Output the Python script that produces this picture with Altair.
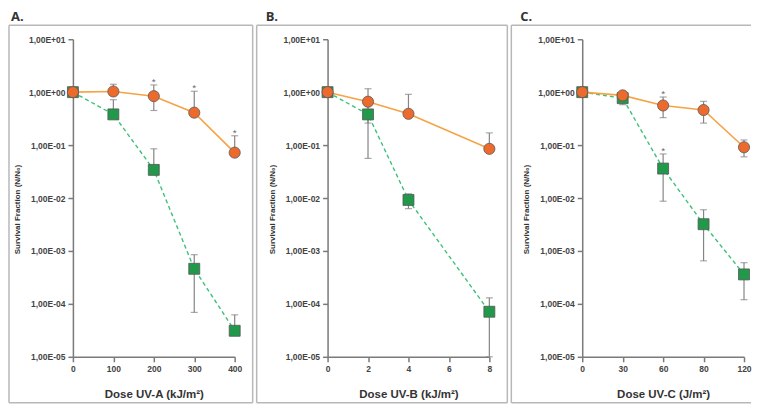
import altair as alt
import pandas as pd

# ---------------- data ----------------
# Panel A: UV-A (kJ/m2)
a_dose = [0, 100, 200, 300, 400]
a_orange = [1.0, 1.03, 0.84, 0.41, 0.072]
a_orange_hi = [None, 1.41, 1.37, 1.04, 0.15]
a_orange_lo = [None, None, 0.45, None, None]
a_orange_sig = [False, False, True, True, True]
a_green = [1.0, 0.38, 0.034, 4.6e-4, 3.1e-5]
a_green_hi = [None, 0.72, 0.085, 8.5e-4, 6.2e-5]
a_green_lo = [None, None, None, 6.9e-5, None]
a_green_sig = [False, False, False, False, False]

# Panel B: UV-B (kJ/m2)
b_dose = [0, 2, 4, 8]
b_orange = [1.0, 0.66, 0.39, 0.085]
b_orange_hi = [None, 1.16, 0.91, 0.17]
b_orange_lo = [None, 0.26, None, None]
b_orange_sig = [False, False, False, False]
b_green = [1.0, 0.38, 0.0092, 7.1e-5]
b_green_hi = [None, None, 0.012, 1.3e-4]
b_green_lo = [None, 0.056, 0.0063, 1.0e-5]
b_green_sig = [False, False, False, False]

# Panel C: UV-C (J/m2), doses drawn at evenly spaced positions
c_labels = ["0", "30", "60", "80", "120"]
c_pos = [0, 1, 2, 3, 4]
c_orange = [1.0, 0.87, 0.56, 0.46, 0.091]
c_orange_hi = [None, 1.03, 0.81, 0.67, 0.125]
c_orange_lo = [None, None, 0.33, 0.26, 0.06]
c_orange_sig = [False, False, True, False, False]
c_green = [1.0, 0.77, 0.036, 0.0032, 3.6e-4]
c_green_hi = [None, None, 0.068, 0.006, 6.0e-4]
c_green_lo = [None, 0.58, 0.0087, 6.5e-4, 1.2e-4]
c_green_sig = [False, False, True, False, False]

y_ticks = [10, 1, 0.1, 0.01, 0.001, 0.0001, 0.00001]

# ---------------- styling ----------------
ORANGE_FILL = "#EC6A2C"
ORANGE_LINE = "#F5A345"
GREEN_FILL = "#21994A"
GREEN_LINE = "#3EC07A"
ERR = "#858585"
BOX = "#b8b8b8"
W, H = 162, 318


def panel_df(pos, o, ohi, olo, osig, g, ghi, glo, gsig):
    rows = []
    for series, vals, hi, lo, sig in (("green", g, ghi, glo, gsig),
                                      ("orange", o, ohi, olo, osig)):
        for p, v, h, l, s in zip(pos, vals, hi, lo, sig):
            rows.append(dict(pos=p, value=v, hi=h, lo=l, sig=s, series=series))
    return pd.DataFrame(rows)


one = pd.DataFrame({"k": [0]})

y_label_expr = ("'1,00E' + (datum.value >= 1 ? '+' : '-') + "
                "format(abs(round(log(datum.value) / LN10)), '02d')")


def make_panel(df, letter, xtitle, xdomain, xvalues, label_expr,
               box_left, box_right, right_side):
    axis_kw = dict(values=xvalues, title=xtitle, labelFlush=False,
                   labelOverlap=False)
    if label_expr:
        axis_kw["labelExpr"] = label_expr
    xs = alt.Scale(domain=xdomain, nice=False, zero=False)
    x = alt.X("pos:Q", scale=xs, axis=alt.Axis(**axis_kw))
    ys = alt.Scale(type="log", domain=[1e-5, 10], nice=False)
    yaxis = alt.Axis(values=y_ticks, labelExpr=y_label_expr,
                     title="Survival Fraction (N/N₀)", labelOverlap=False,
                     titleY=H / 2 + 11)
    y = alt.Y("value:Q", scale=ys, axis=yaxis)
    yhi = alt.Y("hi:Q", scale=ys, axis=yaxis)
    ylo = alt.Y("lo:Q", scale=ys, axis=yaxis)

    base = alt.Chart(df)
    hi_df = base.transform_filter("isValid(datum.hi)")
    lo_df = base.transform_filter("isValid(datum.lo)")

    err_hi = hi_df.mark_rule(color=ERR, strokeWidth=1.2).encode(
        x=x, y=y, y2="hi:Q")
    err_lo = lo_df.mark_rule(color=ERR, strokeWidth=1.2).encode(
        x=x, y=y, y2="lo:Q")
    cap_hi = hi_df.mark_tick(orient="horizontal", size=7, thickness=1.2,
                             color=ERR).encode(x=x, y=yhi)
    cap_lo = lo_df.mark_tick(orient="horizontal", size=7, thickness=1.2,
                             color=ERR).encode(x=x, y=ylo)

    line_g = base.transform_filter("datum.series == 'green'").mark_line(
        color=GREEN_LINE, strokeWidth=1.4, strokeDash=[4, 3]).encode(x=x, y=y)
    line_o = base.transform_filter("datum.series == 'orange'").mark_line(
        color=ORANGE_LINE, strokeWidth=1.6).encode(x=x, y=y)

    sq = base.transform_filter("datum.series == 'green'").mark_square(
        size=120, color=GREEN_FILL, stroke="#555555", strokeWidth=0.8,
        opacity=1).encode(x=x, y=y)
    ci = base.transform_filter("datum.series == 'orange'").mark_circle(
        size=125, color=ORANGE_FILL, stroke="#5a5a5a", strokeWidth=0.8,
        opacity=1).encode(x=x, y=y)

    stars = hi_df.transform_filter("datum.sig").mark_text(
        text="*", baseline="alphabetic", fontSize=10, color="#666666",
        font="Liberation Sans", dy=0).encode(x=x, y=yhi)

    title = alt.Chart(one).mark_text(
        text=letter, align="left", baseline="alphabetic", font="Open Sans",
        fontSize=13, fontWeight="bold", color="#333333").encode(
        x=alt.value(-62), y=alt.value(-18))

    top_y, bot_y = -14, H + 46
    box = [
        alt.Chart(one).mark_rule(color=BOX, strokeWidth=1.5).encode(
            x=alt.value(box_left), x2=alt.value(box_right), y=alt.value(top_y)),
        alt.Chart(one).mark_rule(color=BOX, strokeWidth=1.5).encode(
            x=alt.value(box_left), x2=alt.value(box_right), y=alt.value(bot_y)),
        alt.Chart(one).mark_rule(color=BOX, strokeWidth=1.5).encode(
            x=alt.value(box_left), y=alt.value(top_y), y2=alt.value(bot_y)),
    ]
    if right_side:
        box.append(alt.Chart(one).mark_rule(color=BOX, strokeWidth=1.5).encode(
            x=alt.value(box_right), y=alt.value(top_y), y2=alt.value(bot_y)))

    return alt.layer(err_hi, err_lo, cap_hi, cap_lo, line_g, line_o, sq, ci,
                     stars, title, *box).properties(width=W, height=H)


dfa = panel_df(a_dose, a_orange, a_orange_hi, a_orange_lo, a_orange_sig,
               a_green, a_green_hi, a_green_lo, a_green_sig)
dfb = panel_df(b_dose, b_orange, b_orange_hi, b_orange_lo, b_orange_sig,
               b_green, b_green_hi, b_green_lo, b_green_sig)
dfc = panel_df(c_pos, c_orange, c_orange_hi, c_orange_lo, c_orange_sig,
               c_green, c_green_hi, c_green_lo, c_green_sig)

c_expr = "[" + ",".join("'%s'" % s for s in c_labels) + "][datum.value]"

pa = make_panel(dfa, "A.", "Dose UV-A (kJ/m²)", [0, 400],
                [0, 100, 200, 300, 400], None, -64, 180, True)
pb = make_panel(dfb, "B.", "Dose UV-B (kJ/m²)", [0, 8],
                [0, 2, 4, 6, 8], None, -71, 180, True)
pc = make_panel(dfc, "C.", "Dose UV-C (J/m²)", [0, 4],
                c_pos, c_expr, -71, 169, False)

chart = alt.hconcat(
    pa, pb, pc, spacing=93, bounds="flush",
    padding={"top": 3, "left": 0, "right": 0, "bottom": 0}
).configure_view(
    strokeWidth=0
).configure_axis(
    domainColor="#7a7a7a", domainWidth=1.5, tickColor="#7a7a7a", tickWidth=1.5,
    tickSize=5, labelFont="Liberation Sans", labelFontWeight="bold",
    labelFontSize=8.5, labelColor="#444444", labelPadding=3,
    titleFont="Liberation Sans", titleFontWeight="bold", titleColor="#333333",
    grid=False
).configure_axisY(
    titleFontSize=8, titlePadding=7
).configure_axisX(
    titleFontSize=11.5, titlePadding=15
)

chart.save("out.html", embed_options={"renderer": "svg", "actions": False})
